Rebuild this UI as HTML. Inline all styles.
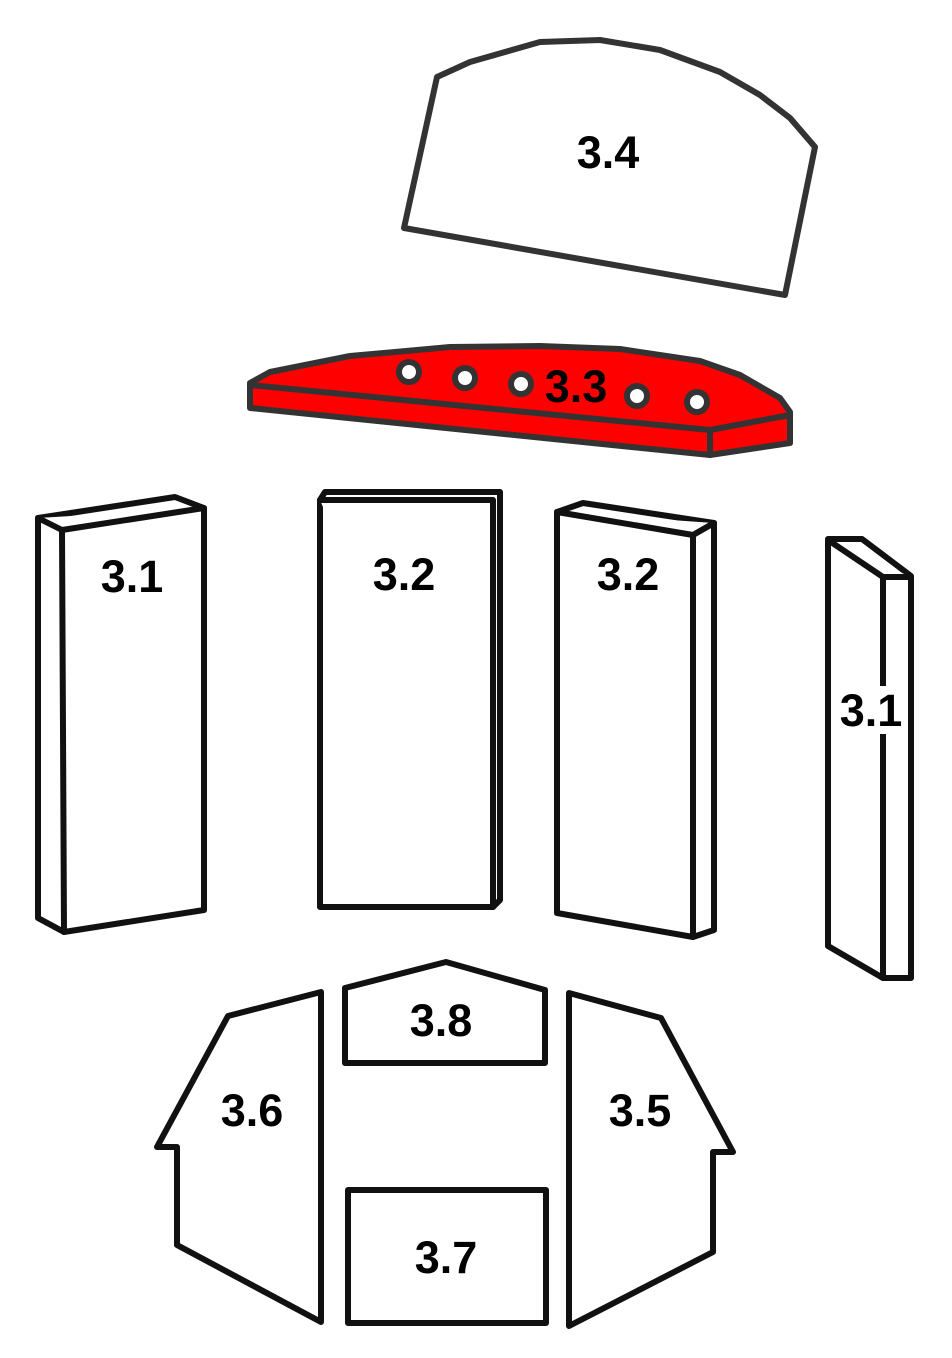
<!DOCTYPE html>
<html><head><style>
html,body{margin:0;padding:0;background:#fff}
svg{display:block}
text{font-family:"Liberation Sans",sans-serif;font-weight:bold;font-size:45px;text-anchor:middle;fill:#000}
</style></head><body>
<svg width="952" height="1358" viewBox="0 0 952 1358">
<g fill="none" stroke-linejoin="round" stroke-linecap="round">
<!-- 3.4 -->
<path d="M437,77 L470,62 L540,42 L600,40 L660,50 L720,72 L760,95 L790,118 L815,147 L785,295 L404,228 Z" stroke="#333" stroke-width="6" fill="#fff"/>
<!-- 3.3 -->
<path d="M250,383 L270,372 L350,356 L450,347 L540,346 L620,349 L700,361 L740,375 L780,398 L790,412 L790,443 L710,455 L250,408 Z" fill="#f00" stroke="#333" stroke-width="6"/>
<path d="M250,385 L710,430 L790,415 M710,430 L710,455" stroke="#333" stroke-width="6"/>
<g fill="#fff" stroke="#333" stroke-width="6">
<circle cx="409" cy="372" r="10"/><circle cx="465" cy="378" r="10"/><circle cx="521" cy="384" r="10"/><circle cx="637" cy="396" r="10"/><circle cx="697" cy="402" r="10"/>
</g>
<g stroke="#111" stroke-width="6" fill="#fff">
<path d="M38,518 L175,497 L204,508 L204,910 L64,932 L38,918 Z"/>
<path d="M38,518 L62,530 L204,508 M62,530 L64,932"/>
<path d="M325,492 L500,492 L500,900 L493,907 L320,907 L320,500 Z"/>
<path d="M320,500 L493,500 L493,907"/>
<path d="M557,512 L583,503 L714,523 L714,930 L693,937 L557,913 Z"/>
<path d="M557,512 L693,535 L714,523 M693,535 L693,937"/>
<path d="M828,539 L862,539 L911,576 L911,978 L883,978 L828,946 Z"/>
<path d="M828,540 L883,577 L911,577 M883,577 L883,978"/>
<path d="M345,988 L446,962 L545,990 L545,1063 L345,1063 Z"/>
<path d="M228,1016 L321,992 L321,1322 L177,1245 L177,1147 L157,1147 Z"/>
<path d="M569,993 L661,1018 L733,1152 L713,1152 L713,1252 L569,1326 Z"/>
<rect x="348" y="1190" width="198" height="133"/>
</g>
</g>
<text x="608" y="168">3.4</text>
<text x="576" y="402">3.3</text>
<text x="132" y="592">3.1</text>
<text x="404" y="590">3.2</text>
<text x="628" y="590">3.2</text>
<rect x="838" y="686" width="64" height="48" fill="#fff"/>
<text x="871" y="726">3.1</text>
<text x="441" y="1036">3.8</text>
<text x="252" y="1126">3.6</text>
<text x="640" y="1126">3.5</text>
<text x="446" y="1273">3.7</text>
</svg>
</body></html>
